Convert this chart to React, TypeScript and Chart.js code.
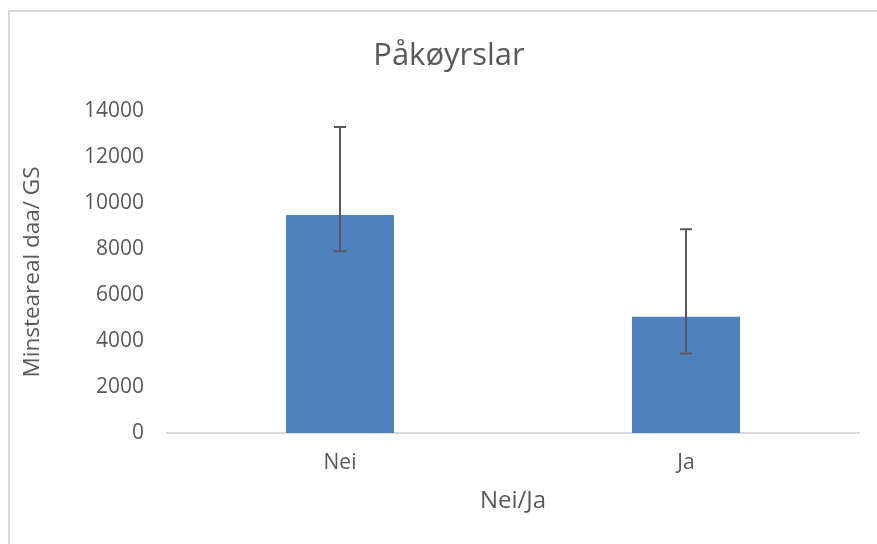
import React, { useEffect, useRef } from "react";
import { Chart, registerables } from "chart.js";

Chart.register(...registerables);

const chartTitle = "Påkøyrslar";
const categories = ["Nei", "Ja"];
const meanValues = [9480, 5050];
const errorLow = [7900, 3460];
const errorHigh = [13300, 8860];
const yTicks = [0, 2000, 4000, 6000, 8000, 10000, 12000, 14000];

const FONT = "'Open Sans', sans-serif";
const TEXT = "#595959";

const titlePlugin = {
  id: "centeredTitle",
  afterDraw(chart: any) {
    const { ctx } = chart;
    ctx.save();
    ctx.fillStyle = TEXT;
    ctx.font = `31px ${FONT}`;
    ctx.textAlign = "center";
    ctx.textBaseline = "alphabetic";
    ctx.fillText(chartTitle, chart.width / 2, 53);
    ctx.restore();
  },
};

const errorBarPlugin = {
  id: "errorBars",
  afterDatasetsDraw(chart: any) {
    const { ctx } = chart;
    const meta = chart.getDatasetMeta(0);
    const yScale = chart.scales.y;
    ctx.save();
    ctx.strokeStyle = "#595959";
    ctx.lineWidth = 2;
    meta.data.forEach((bar: any, i: number) => {
      const x = bar.x;
      const yLo = yScale.getPixelForValue(errorLow[i]);
      const yHi = yScale.getPixelForValue(errorHigh[i]);
      ctx.beginPath();
      ctx.moveTo(x, yLo);
      ctx.lineTo(x, yHi);
      ctx.moveTo(x - 6, yHi);
      ctx.lineTo(x + 6, yHi);
      ctx.moveTo(x - 6, yLo);
      ctx.lineTo(x + 6, yLo);
      ctx.stroke();
    });
    ctx.restore();
  },
};

export default function App() {
  const ref = useRef<HTMLCanvasElement>(null);
  useEffect(() => {
    if (!ref.current) return;
    const chart = new Chart(ref.current, {
      type: "bar",
      data: {
        labels: categories,
        datasets: [
          {
            data: meanValues,
            backgroundColor: "#4F81BD",
            borderWidth: 0,
            barPercentage: 0.312,
            categoryPercentage: 1,
          },
        ],
      },
      options: {
        animation: false,
        responsive: false,
        devicePixelRatio: 1,
        layout: { padding: { left: 0, right: 29, top: 99, bottom: 29 } },
        plugins: {
          legend: { display: false },
          tooltip: { enabled: false },
          title: { display: false },
        },
        scales: {
          x: {
            grid: { display: false, drawTicks: false },
            border: { display: true, color: "#d9d9d9", width: 2 },
            ticks: { color: TEXT, font: { family: FONT, size: 21 }, padding: 17 },
            title: {
              display: true,
              text: "Nei/Ja",
              color: TEXT,
              font: { family: FONT, size: 24 },
              padding: { top: 0, bottom: 0 },
            },
            afterFit: (s: any) => {
              s.height = 83;
            },
          },
          y: {
            min: 0,
            max: 14000,
            afterBuildTicks: (s: any) => {
              s.ticks = yTicks.map((v) => ({ value: v }));
            },
            grid: { display: false, drawTicks: false },
            border: { display: false },
            ticks: {
              color: TEXT,
              font: { family: FONT, size: 21 },
              padding: 23,
              callback: (v: any) => String(v),
            },
            title: {
              display: true,
              text: "Minsteareal daa/ GS",
              color: TEXT,
              font: { family: FONT, size: 22.5 },
              padding: { top: 9, bottom: 0 },
            },
            afterFit: (s: any) => {
              s.width = 157;
            },
          },
        },
      },
      plugins: [errorBarPlugin, titlePlugin],
    });
    return () => chart.destroy();
  }, []);
  return (
    <div style={{ position: "fixed", left: 0, top: 0, width: 877, height: 544, overflow: "hidden", background: "#fff" }}>
      <div
        style={{
          position: "absolute",
          left: 8,
          top: 10,
          width: 900,
          height: 600,
          border: "2px solid #d9d9d9",
          boxSizing: "border-box",
        }}
      />
      <canvas ref={ref} width={878} height={533} style={{ position: "absolute", left: 10, top: 12, width: 878, height: 533 }} />
    </div>
  );
}
